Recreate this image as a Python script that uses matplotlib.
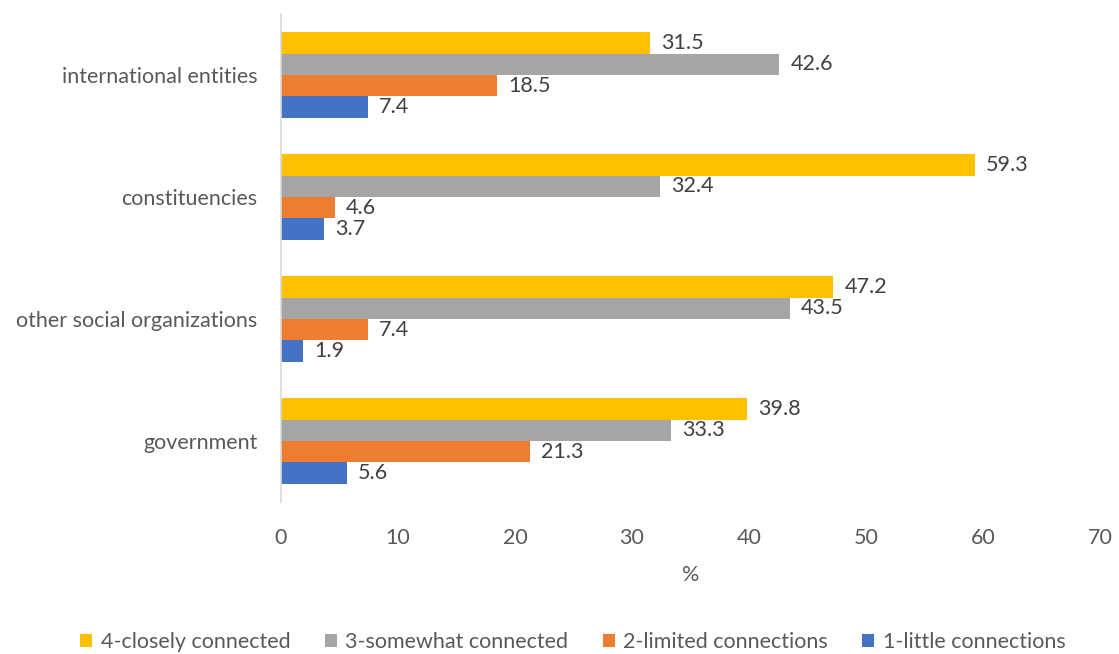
import numpy as np
import matplotlib
matplotlib.use("Agg")
import matplotlib.pyplot as plt

categories = ["government", "other social organizations", "constituencies", "international entities"]
series_names = ["4-closely connected", "3-somewhat connected", "2-limited connections", "1-little connections"]
closely = [39.8, 47.2, 59.3, 31.5]
somewhat = [33.3, 43.5, 32.4, 42.6]
limited = [21.3, 7.4, 4.6, 18.5]
little = [5.6, 1.9, 3.7, 7.4]
colors = ["#FFC000", "#A5A5A5", "#ED7D31", "#4472C4"]

plt.rcParams["font.family"] = ["Lato", "DejaVu Sans"]
TEXT = "#595959"
FS = 15.5

fig = plt.figure(figsize=(11.19, 6.54), dpi=100)
ax = fig.add_axes([281 / 1119, (654 - 502) / 654, (1100 - 281) / 1119, 488 / 654])

y = np.arange(len(categories))
h = 0.176
offsets = [1.5 * h, 0.5 * h, -0.5 * h, -1.5 * h]
handles = []
for vals, name, col, off in zip([closely, somewhat, limited, little], series_names, colors, offsets):
    bars = ax.barh(y + off, vals, height=h, color=col, label=name)
    handles.append(bars)
    for yy, v in zip(y + off, vals):
        ax.annotate(f"{v:.1f}", (v, yy), xytext=(8, 0), textcoords="offset points",
                    va="center", ha="left", fontsize=FS, color="#404040")

ax.set_xlim(0, 70)
ax.set_ylim(-0.5, 3.5)
ax.set_yticks(y)
ax.set_yticklabels(categories)
ax.set_xticks(range(0, 71, 10))
ax.tick_params(axis="both", length=0, labelsize=FS, colors=TEXT)
ax.tick_params(axis="y", pad=17)
ax.tick_params(axis="x", pad=19)
ax.set_xlabel("%", fontsize=FS, color=TEXT, labelpad=12)
for s in ["top", "right", "bottom"]:
    ax.spines[s].set_visible(False)
ax.spines["left"].set_color("#D9D9D9")
ax.spines["left"].set_linewidth(1.2)

fig.legend(handles, series_names, loc="center", bbox_to_anchor=(573 / 1119, 1 - 642 / 654),
           ncol=4, frameon=False, fontsize=FS, labelcolor=TEXT,
           handlelength=0.55, handleheight=0.55, handletextpad=0.4, columnspacing=1.6)

fig.savefig("out.png", dpi=100)
